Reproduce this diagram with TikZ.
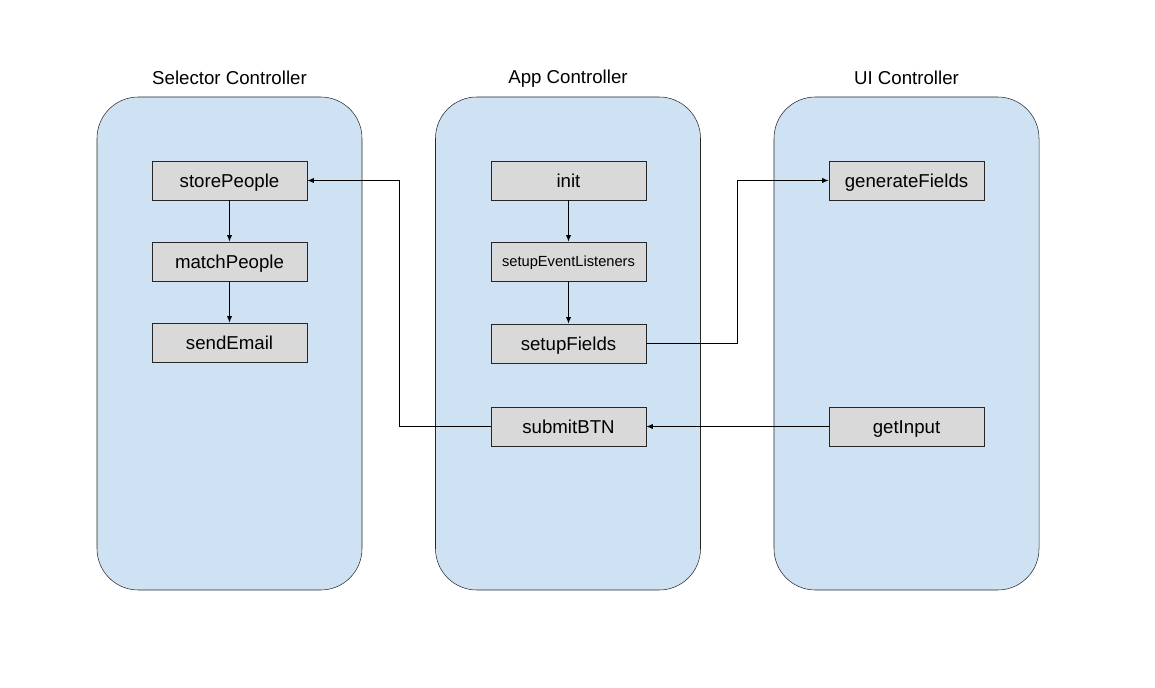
\documentclass[tikz,border=0pt]{standalone}
\usepackage{fontspec}
\setmainfont{Liberation Sans}
\usetikzlibrary{arrows.meta,positioning}
\definecolor{ctrlblue}{HTML}{CFE2F3}
\definecolor{fngray}{HTML}{D9D9D9}

\begin{document}
\begin{tikzpicture}[x=0.75pt,y=-0.75pt,
    ctrl/.style={draw=black!85, fill=ctrlblue, rounded corners=31pt,
      minimum width=198.75pt, minimum height=369.75pt, inner sep=0pt},
    title/.style={font=\fontsize{14}{16}\selectfont, text height=10pt, text depth=0pt},
    fn/.style={draw=black!85, fill=fngray, minimum width=116.25pt,
      minimum height=29.25pt, inner sep=0pt, font=\fontsize{14}{16}\selectfont,
      text height=10pt, text depth=0pt},
    arr/.style={draw=black, line width=0.75pt, -{Latex[length=5pt,width=4pt]}}]
                \useasboundingbox (0,0) rectangle (1155,688);
                % controllers
                \node [ctrl] (selector) at (229.5,343.5) {};
                \node [ctrl] (app) at (568,343.5) {};
                \node [ctrl] (ui) at (906.5,343.5) {};
                \node [title] (selectorTitle) at (229.5,78) {Selector Controller};
                \node [title] (appTitle) at (568,77) {App Controller};
                \node [title] (uiTitle) at (906.5,78) {UI Controller};
                % selector functions
                \node [fn] (storePeople) at (229.5,180.5) {storePeople};
                \node [fn] (matchPeople) at (229.5,261.5) {matchPeople};
                \node [fn] (sendEmail) at (229.5,342.5) {sendEmail};
                % app functions
                \node [fn] (init) at (568.5,180.5) {init};
                \node [fn, font=\fontsize{11}{13}\selectfont, text height=7.9pt] (setupEventListeners) at (568.5,261.5) {setupEventListeners};
                \node [fn] (setupFields) at (568.5,343.5) {setupFields};
                \node [fn] (submitBTN) at (568.5,426.5) {submitBTN};
                % ui functions
                \node [fn] (generateFields) at (906.5,180.5) {generateFields};
                \node [fn] (getInput) at (906.5,426.5) {getInput};
                % connectors
                \draw [arr] (storePeople) -- (matchPeople);
                \draw [arr] (matchPeople) -- (sendEmail);
                \draw [arr] (init) -- (setupEventListeners);
                \draw [arr] (setupEventListeners) -- (setupFields);
                \draw [arr] (setupFields.east) -- ++(91,0) |- (generateFields.west);
                \draw [arr] (submitBTN.west) -- ++(-91,0) |- (storePeople.east);
                \draw [arr] (getInput) -- (submitBTN);
            \end{tikzpicture}
\end{document}
